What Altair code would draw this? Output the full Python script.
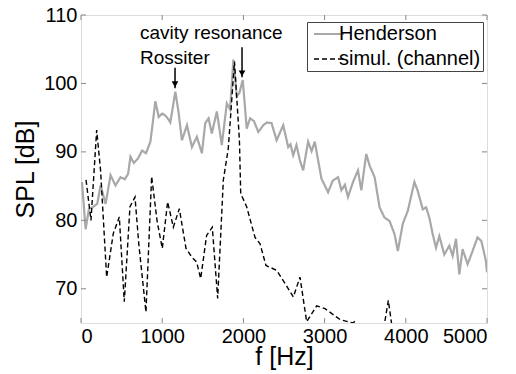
import altair as alt
import pandas as pd

# Henderson measurement (gray solid)
hend_f = [12, 57, 98, 140, 200, 241, 303, 364, 425, 487, 540, 580, 609, 650, 700, 753, 800, 855,
          916, 957, 1000, 1040, 1080, 1100, 1162, 1200, 1243, 1305, 1366, 1427, 1489, 1530, 1571,
          1611, 1673, 1734, 1796, 1836, 1877, 1918, 1950, 1992, 2041, 2082, 2130, 2184, 2245, 2290,
          2347, 2409, 2490, 2552, 2580, 2613, 2654, 2695, 2736, 2797, 2840, 2879, 2961, 3043, 3100,
          3166, 3207, 3250, 3288, 3350, 3411, 3452, 3513, 3554, 3616, 3677, 3738, 3800, 3861, 3902,
          3963, 4025, 4106, 4147, 4209, 4250, 4290, 4331, 4372, 4413, 4474, 4536, 4577, 4618, 4659,
          4699, 4761, 4800, 4883, 4930, 4986, 5000]
hend_db = [85.6, 78.7, 81.7, 81.9, 82.4, 85.1, 82.4, 86.6, 85.1, 86.3, 86.0, 86.8, 89.3, 88.4, 89.0,
           90.2, 89.8, 91.5, 97.4, 95.1, 95.6, 95.3, 94.7, 94.3, 98.8, 95.9, 91.7, 93.9, 90.7, 92.2,
           89.8, 94.2, 94.9, 92.7, 95.9, 91.0, 97.1, 96.2, 103.5, 98.1, 98.6, 100.5, 93.4, 94.9, 94.5,
           92.9, 93.9, 94.3, 94.2, 91.7, 93.9, 90.7, 91.1, 89.5, 91.0, 88.8, 87.3, 91.5, 90.1, 91.5,
           86.1, 84.1, 85.8, 86.3, 84.4, 85.2, 83.4, 85.6, 87.3, 84.4, 89.7, 88.0, 86.3, 81.9, 80.4,
           79.9, 78.0, 75.5, 79.5, 81.4, 85.6, 84.3, 81.6, 81.9, 80.4, 78.0, 76.0, 77.7, 75.0, 76.3,
           74.8, 77.3, 72.1, 75.8, 73.6, 74.8, 77.5, 77.0, 74.1, 72.4]

# Simulation (channel) (black dashed)
sim_f = [62, 123, 193, 241, 316, 398, 472, 533, 603, 665, 712, 800, 870, 937, 1001, 1067, 1137,
         1211, 1293, 1366, 1424, 1474, 1547, 1617, 1683, 1753, 1814, 1890, 1951, 1967, 2040, 2143,
         2204, 2278, 2410, 2512, 2615, 2697, 2779, 2902, 3005, 3190, 3354, 3374, 3420, 3700, 3725,
         3785, 3830, 3850]
sim_db = [85.9, 80.0, 93.2, 87.3, 71.7, 78.1, 80.5, 68.1, 82.0, 83.4, 76.5, 66.6, 86.4, 79.9, 75.9,
          82.7, 79.0, 81.7, 75.9, 74.6, 73.9, 71.5, 77.8, 79.0, 68.6, 85.9, 90.5, 103.2, 91.7, 83.9,
          82.0, 77.5, 76.6, 73.4, 72.7, 70.8, 68.8, 71.7, 65.2, 67.5, 67.1, 65.5, 65.0, 65.3, 63.0,
          62.5, 64.0, 68.3, 64.5, 62.0]

series_names = ["Henderson", "simul. (channel)"]

x_ticks = [0, 1000, 2000, 3000, 4000, 5000]
y_ticks = [70, 80, 90, 100, 110]

ann_labels = ["cavity resonance", "Rossiter"]
ann_f = [727, 727]
ann_db = [106.45, 102.9]

arrow_f = [1158, 1983]
arrow_top = [102.3, 105.3]
arrow_tip = [99.3, 100.9]

W, H = 406, 308
FONT = "Liberation Sans"

df = pd.concat([
    pd.DataFrame({"f": hend_f, "db": hend_db, "series": series_names[0], "ord": range(len(hend_f))}),
    pd.DataFrame({"f": sim_f, "db": sim_db, "series": series_names[1], "ord": range(len(sim_f))}),
])

xscale = alt.Scale(domain=[0, 5000], nice=False, zero=False)
yscale = alt.Scale(domain=[65, 110], nice=False, zero=False)

xaxis = alt.Axis(values=x_ticks, format="d", title="f [Hz]", grid=False, domain=False, ticks=False,
                 labelFontSize=20, labelPadding=3, labelColor="black", labelFont=FONT,
                 titleFontSize=25, titleFontWeight="normal", titleFont=FONT, titleColor="black",
                 titleX=W / 2, titleY=41, titleBaseline="alphabetic", titleAlign="center")
yaxis = alt.Axis(values=y_ticks, format="d", title="SPL [dB]", grid=False, domain=False, ticks=False,
                 labelFontSize=20, labelPadding=4, labelColor="black", labelFont=FONT,
                 titleFontSize=25, titleFontWeight="normal", titleFont=FONT, titleColor="black",
                 titleX=-48, titleY=H / 2, titleAngle=270, titleBaseline="alphabetic",
                 titleAlign="center")

LINE_SYMBOL = "M-1,0H5"
leg_common = dict(title=None, orient="none", legendX=226, legendY=7,
                  symbolType=LINE_SYMBOL, symbolSize=100, symbolStrokeWidth=1.6,
                  labelFontSize=20, labelFont=FONT, labelColor="black",
                  labelOffset=10, padding=2, rowPadding=5,
                  strokeColor="#444444", fillColor="white", labelLimit=300)

lines = alt.Chart(df).mark_line(clip=True).encode(
    x=alt.X("f:Q", scale=xscale, axis=xaxis),
    y=alt.Y("db:Q", scale=yscale, axis=yaxis),
    order="ord:Q",
    color=alt.Color("series:N", scale=alt.Scale(domain=series_names, range=["#a8a8a8", "#000000"]),
                    legend=alt.Legend(**leg_common)),
    strokeDash=alt.StrokeDash("series:N", scale=alt.Scale(domain=series_names, range=[[1, 0], [5, 3]]),
                              legend=alt.Legend(**leg_common)),
    strokeWidth=alt.StrokeWidth("series:N", scale=alt.Scale(domain=series_names, range=[2.2, 1.4]),
                                legend=None),
)

xt = pd.DataFrame({"f": x_ticks})
yt = pd.DataFrame({"db": y_ticks})
tc = "#888888"
xticks_b = alt.Chart(xt).mark_rule(color=tc).encode(x=alt.X("f:Q", scale=xscale), y=alt.value(H), y2=alt.value(H - 5))
xticks_t = alt.Chart(xt).mark_rule(color=tc).encode(x=alt.X("f:Q", scale=xscale), y=alt.value(0), y2=alt.value(5))
yticks_l = alt.Chart(yt).mark_rule(color=tc).encode(y=alt.Y("db:Q", scale=yscale), x=alt.value(0), x2=alt.value(5))
yticks_r = alt.Chart(yt).mark_rule(color=tc).encode(y=alt.Y("db:Q", scale=yscale), x=alt.value(W), x2=alt.value(W - 5))

ann = pd.DataFrame({"f": ann_f, "db": ann_db, "label": ann_labels})
texts = alt.Chart(ann).mark_text(align="left", baseline="alphabetic", fontSize=19, font=FONT,
                                 color="black").encode(
    x=alt.X("f:Q", scale=xscale), y=alt.Y("db:Q", scale=yscale), text="label:N")

arr = pd.DataFrame({"f": arrow_f, "top": arrow_top, "tip": arrow_tip})
shafts = alt.Chart(arr).mark_rule(color="black", strokeWidth=1.5).encode(
    x=alt.X("f:Q", scale=xscale), y=alt.Y("top:Q", scale=yscale), y2="tip:Q")
heads = alt.Chart(arr).mark_point(shape="triangle-down", filled=True, color="black", size=45,
                                  opacity=1, yOffset=-4).encode(
    x=alt.X("f:Q", scale=xscale), y=alt.Y("tip:Q", scale=yscale))

chart = alt.layer(lines, xticks_b, xticks_t, yticks_l, yticks_r, texts, shafts, heads).properties(
    width=W, height=H,
    autosize=alt.AutoSizeParams(type="none"),
    padding={"left": 81, "top": 15, "right": 29, "bottom": 51},
).configure_view(stroke="#888888", strokeWidth=1.2).configure(font=FONT, background="white")

chart.save("out.html", embed_options={"renderer": "svg", "actions": False})
